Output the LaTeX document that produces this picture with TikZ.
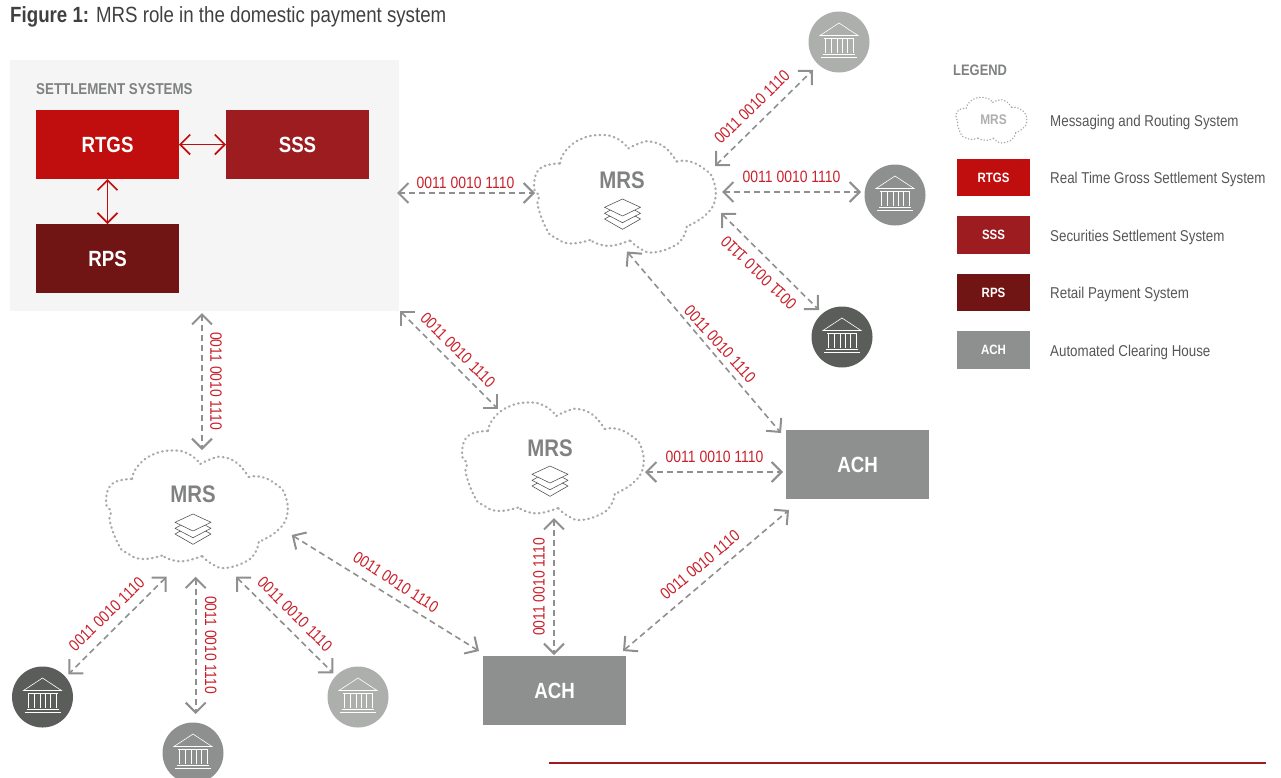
\documentclass[tikz,border=0pt]{standalone}
\usepackage{fontspec}
\setmainfont{Liberation Sans}[FakeStretch=0.85]
\usetikzlibrary{arrows.meta,positioning,shapes.geometric}

\definecolor{rtgsred}{HTML}{C00D0D}
\definecolor{sssred}{HTML}{9C1C20}
\definecolor{rpsred}{HTML}{701513}
\definecolor{achgray}{HTML}{8D908E}
\definecolor{lightbank}{HTML}{ADAFAD}
\definecolor{darkbank}{HTML}{5A5D5A}
\definecolor{panelgray}{HTML}{F5F5F5}
\definecolor{dotgray}{HTML}{A8AAA8}
\definecolor{labelgray}{HTML}{7F8280}
\definecolor{bitsred}{HTML}{C8202A}
\definecolor{legendtext}{HTML}{555755}

\tikzset{
  mrscloud/.pic={
    \draw[clouddots] plot[smooth,tension=.8] coordinates {(-65,-30) (-60,-42) (-45,-54) (-25,-58.5) (-8,-55) (3.3,-45)};
    \draw[clouddots] plot[smooth,tension=.8] coordinates {(3.3,-45) (14,-50) (25,-52) (40,-46) (51.7,-32)};
    \draw[clouddots] plot[smooth,tension=.8] coordinates {(51.7,-32) (65,-32) (80,-24) (88.3,-13.5) (90,6.5) (80,22) (61.7,33)};
    \draw[clouddots] plot[smooth,tension=.8] coordinates {(61.7,33) (58,44) (48,53) (28,59) (15,55) (5,47)};
    \draw[clouddots] plot[smooth,tension=.8] coordinates {(5,47) (-12,52) (-25,51) (-35,46.5)};
    \draw[clouddots] plot[smooth,tension=.8] coordinates {(-35,46.5) (-55,50) (-70,44) (-78,36.5) (-87,13) (-86,3) (-91,-7) (-85,-25) (-65,-30)};
  },
  stacklayers/.pic={
    \draw[layerline] (-12.5,-3.7) -- (-18,-.7) -- (0,8.7) -- (18,-.7) -- (12.5,-3.7);
    \draw[layerline] (-12.5,2) -- (-18,5) -- (0,15.3) -- (18,5) -- (12.5,2);
    \draw[layerline] (0,-15) -- (18,-6.7) -- (0,2) -- (-18,-6.7) -- cycle;
  },
  bankicon/.pic={
    \draw[bankline] (-19,-6.5) -- (0,-19) -- (19,-6.5) -- cycle;
    \draw[bankline] (-15,-4) -- (15,-4);
    \draw[bankline] (-14,-4) -- (-14,11);
    \draw[bankline] (-8,-4) -- (-8,11);
    \draw[bankline] (-2,-4) -- (-2,11);
    \draw[bankline] (3,-4) -- (3,11);
    \draw[bankline] (8,-4) -- (8,11);
    \draw[bankline] (14,-4) -- (14,11);
    \draw[bankline] (-16,12) -- (16,12);
    \draw[bankline] (-18,15) -- (18,15);
  }
}

\begin{document}
\begin{tikzpicture}[x=1pt,y=-1pt]
\tikzstyle{clouddots} = [draw=dotgray, line width=2.2pt, line cap=round, dash pattern=on .8pt off 4pt]
\tikzstyle{layerline} = [draw=legendtext, line width=.6pt, line join=round]
\tikzstyle{bankline} = [draw=white, line width=.6pt]
\tikzstyle{panel} = [rectangle, fill=panelgray, minimum width=389pt, minimum height=251pt, inner sep=0pt, outer sep=0pt]
\tikzstyle{block} = [rectangle, text=white, font=\fontsize{22}{26}\selectfont\bfseries, minimum width=143pt, minimum height=69pt, inner sep=0pt, outer sep=0pt]
\tikzstyle{legendbox} = [rectangle, text=white, font=\fontsize{13.5}{16}\selectfont\bfseries, minimum width=73pt, minimum height=37.7pt, inner sep=0pt, outer sep=0pt]
\tikzstyle{legendlabel} = [text=legendtext, font=\fontsize{15.7}{19}\selectfont, inner sep=0pt, text height=12pt, text depth=0pt]
\tikzstyle{bank} = [circle, minimum size=61pt, inner sep=0pt, outer sep=0pt]
\tikzstyle{cloudarea} = [rectangle, minimum width=184pt, minimum height=117pt, inner sep=0pt, outer sep=0pt]
\tikzstyle{mrslabel} = [text=labelgray, font=\fontsize{24}{28}\selectfont\bfseries, inner sep=0pt]
\tikzstyle{bits} = [text=bitsred, font=\fontsize{16.4}{19}\selectfont, inner sep=0pt]
\tikzstyle{link} = [draw=achgray, line width=1.6pt, dash pattern=on 6pt off 4pt, {Straight Barb[length=10pt,width=20pt,line width=2pt]}-{Straight Barb[length=10pt,width=20pt,line width=2pt]}]
\tikzstyle{redlink} = [draw=rtgsred, line width=1.5pt, {Straight Barb[length=10pt,width=20pt,line width=1.7pt]}-{Straight Barb[length=10pt,width=20pt,line width=1.7pt]}]

\useasboundingbox (0,0) rectangle (1281,777);

% Title
\node [anchor=base west, inner sep=0pt, text=black!75, font=\fontsize{22}{26}\selectfont] (title) at (10,22) {\textbf{Figure 1:} MRS role in the domestic payment system};

% Settlement systems
\node [panel] (settle) at (204.5,185.5) {};
\node [anchor=west, inner sep=0pt, text=labelgray, font=\fontsize{15.7}{19}\selectfont\bfseries] (settleTitle) at (36,89) {SETTLEMENT SYSTEMS};
\node [block, fill=rtgsred] (rtgs) at (107.5,144.5) {RTGS};
\node [block, fill=sssred, right=47pt of rtgs] (sss) {SSS};
\node [block, fill=rpsred, below=45pt of rtgs] (rps) {RPS};

% Clouds
\node [cloudarea] (mrsTop) at (625,193.5) {};
\node [cloudarea] (mrsMid) at (553,461) {};
\node [cloudarea] (mrsLow) at (197,509) {};
\pic at (mrsTop) {mrscloud};
\pic at (mrsMid) {mrscloud};
\pic at (mrsLow) {mrscloud};
\node [mrslabel] (mrsTopLabel) at ([shift={(-3,-13.5)}]mrsTop.center) {MRS};
\node [mrslabel] (mrsMidLabel) at ([shift={(-3,-13)}]mrsMid.center) {MRS};
\node [mrslabel] (mrsLowLabel) at ([shift={(-4,-15)}]mrsLow.center) {MRS};
\pic at ([shift={(-2.5,20.5)}]mrsTop.center) {stacklayers};
\pic at ([shift={(-3,20)}]mrsMid.center) {stacklayers};
\pic at ([shift={(-4,20)}]mrsLow.center) {stacklayers};

% Banks
\node [bank, fill=lightbank] (bankN) at (839,42) {};
\node [bank, fill=achgray] (bankE) at (895,195) {};
\node [bank, fill=darkbank] (bankSE) at (842,337) {};
\node [bank, fill=darkbank] (bankDark) at (42.5,697) {};
\node [bank, fill=achgray] (bankMid) at (193,753) {};
\node [bank, fill=lightbank] (bankLight) at (358,697) {};
\pic at (bankN) {bankicon};
\pic at (bankE) {bankicon};
\pic at (bankSE) {bankicon};
\pic at (bankDark) {bankicon};
\pic at (bankMid) {bankicon};
\pic at (bankLight) {bankicon};

% Clearing houses
\node [block, fill=achgray] (achUp) at (857.5,464.5) {ACH};
\node [block, fill=achgray] (achLow) at (554.5,690.5) {ACH};

% Connections
\draw [redlink] (rtgs.east) -- (sss.west);
\draw [redlink] (rtgs.south) -- (rps.north);
\draw [link] ([shift={(-2,7.5)}]settle.east) -- ([shift={(-90,-.5)}]mrsTop.center);
\draw [link] ([shift={(90,-27.5)}]mrsTop.center) -- ([shift={(-26,28)}]bankN.center);
\draw [link] ([shift={(97,-1.5)}]mrsTop.center) -- ([shift={(-34,-3)}]bankE.center);
\draw [link] ([shift={(96,19.5)}]mrsTop.center) -- ([shift={(-23,-27)}]bankSE.center);
\draw [link] ([shift={(2,58)}]mrsTop.center) -- ([shift={(-76.5,-31.5)}]achUp.center);
\draw [link] ([shift={(1,0)}]settle.south east) -- ([shift={(-55,-52)}]mrsMid.center);
\draw [link] ([shift={(92,11)}]mrsMid.center) -- ([shift={(-74.5,7.5)}]achUp.center);
\draw [link] ([shift={(1,57)}]mrsMid.center) -- ([shift={(-.5,-35.5)}]achLow.center);
\draw [link] ([shift={(68.5,-39.5)}]achLow.center) -- ([shift={(-68.5,45.5)}]achUp.center);
\draw [link] ([shift={(-2.5,2)}]settle.south) -- ([shift={(5,-59)}]mrsLow.center);
\draw [link] ([shift={(94.7,26)}]mrsLow.center) -- ([shift={(-75.5,-39.5)}]achLow.center);
\draw [link] ([shift={(-30.3,67.7)}]mrsLow.center) -- ([shift={(25.8,-22.7)}]bankDark.center);
\draw [link] ([shift={(-1.3,67.7)}]mrsLow.center) -- ([shift={(2.7,-39)}]bankMid.center);
\draw [link] ([shift={(39,67.7)}]mrsLow.center) -- ([shift={(-24.7,-23.7)}]bankLight.center);

% Bit strings
\node [bits] (bitsSettleTop) at (465.5,183) {0011 0010 1110};
\node [bits, rotate=44] (bitsBankN) at (752,107) {0011 0010 1110};
\node [bits] (bitsBankE) at (791.5,177) {0011 0010 1110};
\node [bits, rotate=136] (bitsBankSE) at (758.7,272.7) {0011 0010 1110};
\node [bits, rotate=-48] (bitsTopAch) at (720,344) {0011 0010 1110};
\node [bits, rotate=-45] (bitsSettleMid) at (458,350) {0011 0010 1110};
\node [bits] (bitsMidAch) at (714.5,457) {0011 0010 1110};
\node [bits, rotate=90] (bitsMidLow) at (539,587) {0011 0010 1110};
\node [bits, rotate=40] (bitsAchAch) at (700,565) {0011 0010 1110};
\node [bits, rotate=-90] (bitsSettleLow) at (216,381) {0011 0010 1110};
\node [bits, rotate=-33] (bitsLowAch) at (396,582) {0011 0010 1110};
\node [bits, rotate=44] (bitsDark) at (106.7,614) {0011 0010 1110};
\node [bits, rotate=-90] (bitsMid) at (210.7,645) {0011 0010 1110};
\node [bits, rotate=-45] (bitsLight) at (295,614) {0011 0010 1110};

% Legend
\node [anchor=west, inner sep=0pt, text=labelgray, font=\fontsize{15.2}{18}\selectfont\bfseries] (legendTitle) at (953,70) {LEGEND};
\node [rectangle, minimum width=73pt, minimum height=37.7pt, inner sep=0pt, outer sep=0pt, text=lightbank, font=\fontsize{14}{17}\selectfont\bfseries] (legMrs) at (993.5,120) {MRS};
\pic [scale=.39, clouddots/.style={draw=dotgray, line width=1.3pt, line cap=round, dash pattern=on .5pt off 2.6pt}] at (991.5,120) {mrscloud};
\node [legendbox, fill=rtgsred, below=19.8pt of legMrs] (legRtgs) {RTGS};
\node [legendbox, fill=sssred, below=19.8pt of legRtgs] (legSss) {SSS};
\node [legendbox, fill=rpsred, below=19.8pt of legSss] (legRps) {RPS};
\node [legendbox, fill=achgray, below=19.8pt of legRps] (legAch) {ACH};
\node [legendlabel, right=20pt of legMrs] (txtMrs) {Messaging and Routing System};
\node [legendlabel, right=20pt of legRtgs] (txtRtgs) {Real Time Gross Settlement System};
\node [legendlabel, right=20pt of legSss] (txtSss) {Securities Settlement System};
\node [legendlabel, right=20pt of legRps] (txtRps) {Retail Payment System};
\node [legendlabel, right=20pt of legAch] (txtAch) {Automated Clearing House};

% Rule at the foot
\coordinate (ruleLeft) at (549,763);
\coordinate (ruleRight) at (1266,763);
\draw [draw=sssred, line width=2pt] (ruleLeft) -- (ruleRight);

\end{tikzpicture}
\end{document}
